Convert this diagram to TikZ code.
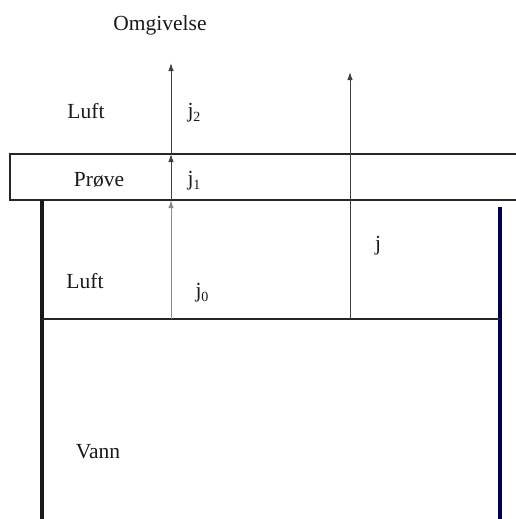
\documentclass[tikz,border=0pt]{standalone}
\usepackage{fontspec}
\setmainfont{Liberation Serif}
\usetikzlibrary{arrows.meta}
\newcommand{\sub}[1]{\lower4pt\hbox{\fontsize{14}{14}\selectfont #1}}
\tikzset{
  lbl/.style={font=\fontsize{21.5}{25}\selectfont, inner sep=0pt, text=black!90},
  boxline/.style={line width=1.3pt, draw=black!85},
  wall/.style={line width=3.6pt},
  flux/.style={line width=1pt, draw=black!75, -{Latex[length=8pt,width=5.5pt]}},
}
\begin{document}
\begin{tikzpicture}[x=1pt,y=-1pt]
\useasboundingbox (0,0) rectangle (516,519);
% sample layer
\coordinate (pTL) at (10,154);
\coordinate (pBL) at (10,200);
\coordinate (pTR) at (516,154);
\coordinate (pBR) at (516,200);
\draw[boxline] (pTR) -- (pTL) -- (pBL) -- (pBR);
% container walls
\coordinate (wLt) at (42,200);
\coordinate (wLb) at (42,519);
\coordinate (wRt) at (500,207);
\coordinate (wRb) at (500,519);
\draw[wall, black!90] (wLt) -- (wLb);
\draw[wall, blue!30!black] (wRt) -- (wRb);
% water surface
\coordinate (sL) at (42,319);
\coordinate (sR) at (500,319);
\draw[boxline] (sL) -- (sR);
% flux arrows
\coordinate (a0) at (171,319);
\coordinate (a1) at (171,200);
\coordinate (a2) at (171,154);
\coordinate (a3) at (171,63);
\coordinate (b0) at (350,319);
\coordinate (b1) at (350,72);
\draw[flux, draw=black!45] (a0) -- (a1);
\draw[flux] (a1) -- (a2);
\draw[flux] (a2) -- (a3);
\draw[flux] (b0) -- (b1);
% labels
\node[lbl] (omg) at (160,25) {Omgivelse};
\node[lbl] (luft1) at (86,111) {Luft};
\node[lbl] (j2) at (194,113) {j\sub{2}};
\node[lbl] (prove) at (99,180) {Prøve};
\node[lbl] (j1) at (194,181) {j\sub{1}};
\node[lbl] (luft2) at (85,281) {Luft};
\node[lbl] (j0) at (202,293) {j\sub{0}};
\node[lbl] (j) at (378,246) {j};
\node[lbl] (vann) at (98,452) {Vann};
\end{tikzpicture}
\end{document}
